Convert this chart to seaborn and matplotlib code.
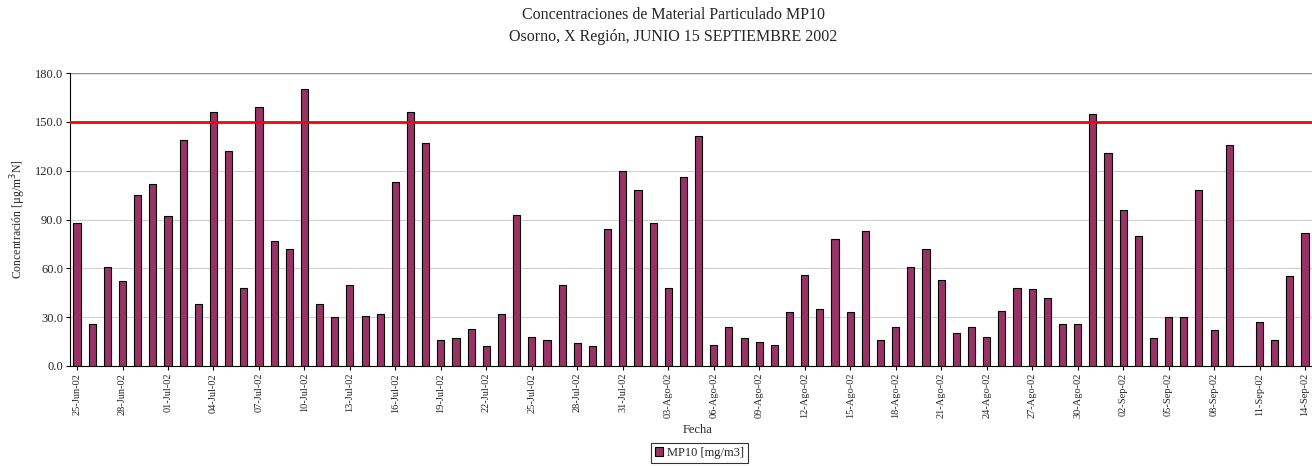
import pandas as pd
import numpy as np
import matplotlib
matplotlib.use("Agg")
import matplotlib.pyplot as plt
import seaborn as sns

# datos diarios MP10, 25-Jun-02 a 14-Sep-02 (10-Sep sin dato)
jun = [88, 26, 61, 52, 105, 112]
jul = [92, 139, 38, 156, 132, 48, 159, 77, 72, 170, 38, 30, 50, 31, 32, 113,
       156, 137, 16, 17, 23, 12, 32, 93, 18, 16, 50, 14, 12, 84, 120]
ago = [108, 88, 48, 116, 141, 13, 24, 17, 15, 13, 33, 56, 35, 78, 33, 83,
       16, 24, 61, 72, 53, 20, 24, 18, 34, 48, 47, 42, 26, 26, 155]
sep = [131, 96, 80, 17, 30, 30, 108, 22, 136, np.nan, 27, 16, 55, 82]

norma = 150.0

meses = [("Jun", 25, jun), ("Jul", 1, jul), ("Ago", 1, ago), ("Sep", 1, sep)]
fechas = []
valores = []
for mes, d0, vals in meses:
    for i, v in enumerate(vals):
        fechas.append(f"{d0 + i:02d}-{mes}-02")
        valores.append(v)

df = pd.DataFrame({"Fecha": fechas, "MP10": valores})

sns.set_style("white")
plt.rcParams["font.family"] = ["Liberation Serif", "DejaVu Serif"]

fig = plt.figure(figsize=(13.12, 4.66), dpi=100)
ax = fig.add_axes([0.0534, 0.2146, 0.9466, 0.6287])

sns.barplot(data=df, x="Fecha", y="MP10", order=fechas, color="#993366",
            saturation=1, edgecolor="black", linewidth=0.8, width=0.47,
            errorbar=None, ax=ax, label="MP10 [mg/m3]", zorder=3)

ax.axhline(norma, color="#ff0000", linewidth=2, zorder=4)

ax.set_ylim(0, 180)
ax.set_xlim(-0.46, len(fechas) - 0.54)
ax.set_yticks(np.arange(0, 181, 30))
ax.set_yticklabels([f"{v:.1f}" for v in np.arange(0, 181, 30)], fontsize=9)
ax.yaxis.grid(True, color="#d0d0d0", linewidth=0.8, zorder=0)
ax.axhline(180, color="#909090", linewidth=1, zorder=1)

idx = list(range(0, len(fechas), 3))
ax.set_xticks(idx)
ax.set_xticklabels([fechas[i] for i in idx], rotation=90, fontsize=7.5)
ax.tick_params(axis="both", direction="out", length=3, width=0.8,
               color="black", bottom=True, left=True, pad=2)

for s in ["top", "right"]:
    ax.spines[s].set_visible(False)
for s in ["left", "bottom"]:
    ax.spines[s].set_color("black")
    ax.spines[s].set_linewidth(0.8)

ax.set_xlabel("")
ax.set_ylabel("Concentración [µg/m$^3$N]", fontsize=8.5, labelpad=5)
fig.text(0.532, 0.077, "Fecha", ha="center", va="center", fontsize=9)

fig.text(0.513, 0.968, "Concentraciones de Material Particulado MP10",
         ha="center", va="center", fontsize=11.5)
fig.text(0.513, 0.92, "Osorno, X Región, JUNIO 15 SEPTIEMBRE 2002",
         ha="center", va="center", fontsize=11.5)

if ax.get_legend():
    ax.get_legend().remove()
h, l = ax.get_legend_handles_labels()
leg = fig.legend(h[:1], l[:1], loc="center", bbox_to_anchor=(0.533, 0.028),
                 fontsize=9, frameon=True, fancybox=False, edgecolor="black",
                 handlelength=0.7, handleheight=0.7, handletextpad=0.3,
                 borderpad=0.3)
leg.get_frame().set_linewidth(0.8)

fig.savefig("out.png", dpi=100)
